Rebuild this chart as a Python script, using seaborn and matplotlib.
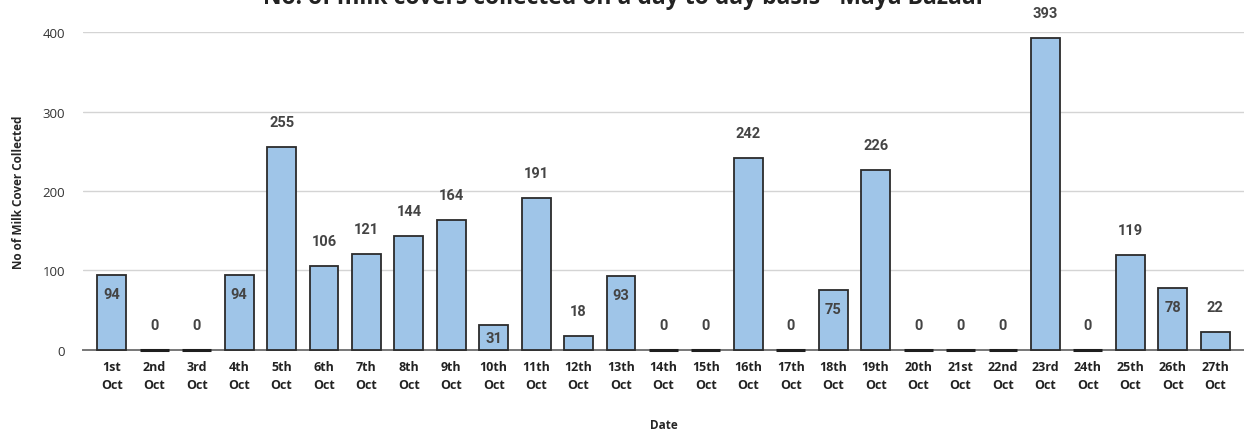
# ============================================
# Milk covers collected per day - Maya Bazaar
# ============================================

import pandas as pd
import matplotlib.pyplot as plt
import seaborn as sns


# Data
dates = [
    "1st", "2nd", "3rd", "4th", "5th", "6th", "7th", "8th", "9th",
    "10th", "11th", "12th", "13th", "14th", "15th", "16th", "17th",
    "18th", "19th", "20th", "21st", "22nd", "23rd", "24th", "25th",
    "26th", "27th",
]
month = "Oct"
covers = [
    94, 0, 0, 94, 255, 106, 121, 144, 164, 31, 191, 18, 93, 0, 0,
    242, 0, 75, 226, 0, 0, 0, 393, 0, 119, 78, 22,
]
# labels Sheets drew inside the bar top
inside_labels = ["1st", "4th", "10th", "13th", "18th", "26th"]

title = "No. of milk covers collected on a day to day basis - Maya Bazaar"
y_ticks = [0, 100, 200, 300, 400]


df = pd.DataFrame({
    "Date": [f"{d}\n{month}" for d in dates],
    "Covers": covers,
    "Day": dates,
})


# ============================================
# Plot
# ============================================

sns.set_style("white")
plt.rcParams["font.family"] = ["Open Sans", "DejaVu Sans"]

fig = plt.figure(figsize=(12.44, 4.39), dpi=100)
ax = fig.add_axes([0.0667, 0.2005, 0.9333, 0.7243])

sns.barplot(
    data=df,
    x="Date",
    y="Covers",
    color="#9fc5e8",
    saturation=1,
    width=0.68,
    edgecolor="#2b2b2b",
    linewidth=1.3,
    ax=ax,
)

# let zero bars show as a dark line on the axis
for bar in ax.patches:
    bar.set_clip_on(False)
    bar.set_zorder(6)
    if bar.get_height() == 0:
        bar.set_linewidth(2.2)
        bar.set_edgecolor("#1e1e1e")

ax.set_xlim(-0.68, 26.68)
ax.set_ylim(0, 400)
ax.set_yticks(y_ticks)
ax.yaxis.grid(True, color="#d4d4d4", linewidth=1)
ax.set_axisbelow(True)

for side in ["top", "right", "left"]:
    ax.spines[side].set_visible(False)
ax.spines["bottom"].set_color("#777777")
ax.spines["bottom"].set_linewidth(1.4)
ax.spines["bottom"].set_zorder(5)

ax.tick_params(axis="both", length=0)
ax.tick_params(axis="y", pad=13)
ax.tick_params(axis="x", pad=7)

for lbl in ax.get_xticklabels():
    lbl.set_fontweight("bold")
    lbl.set_fontsize(9)
    lbl.set_color("#222222")
    lbl.set_linespacing(1.5)

for lbl in ax.get_yticklabels():
    lbl.set_fontsize(9.5)
    lbl.set_color("#333333")

ax.set_xlabel("Date", fontsize=8.5, fontweight="bold", labelpad=20)
ax.set_ylabel(
    "No of Milk Cover Collected",
    fontsize=8.5,
    fontweight="bold",
)
ax.yaxis.set_label_coords(-0.05, 0.5)


# Value labels
px_per_unit = ax.bbox.height / 400

for i, row in df.iterrows():
    bar_px = row["Covers"] * px_per_unit
    if row["Day"] in inside_labels:
        offset = -min(19, bar_px / 2)
    else:
        offset = 25
    ax.annotate(
        str(row["Covers"]),
        (i, row["Covers"]),
        xytext=(0, offset),
        textcoords="offset pixels",
        ha="center",
        va="center",
        fontsize=10.5,
        fontweight="bold",
        family="Roboto",
        color="#444444",
        annotation_clip=False,
        zorder=7,
    )


# Title (cut off at top edge like the original)
fig.text(
    0.502,
    0.991,
    title,
    ha="center",
    va="baseline",
    fontsize=16.5,
    fontweight="bold",
    color="#222222",
)

plt.savefig("out.png", dpi=100)
